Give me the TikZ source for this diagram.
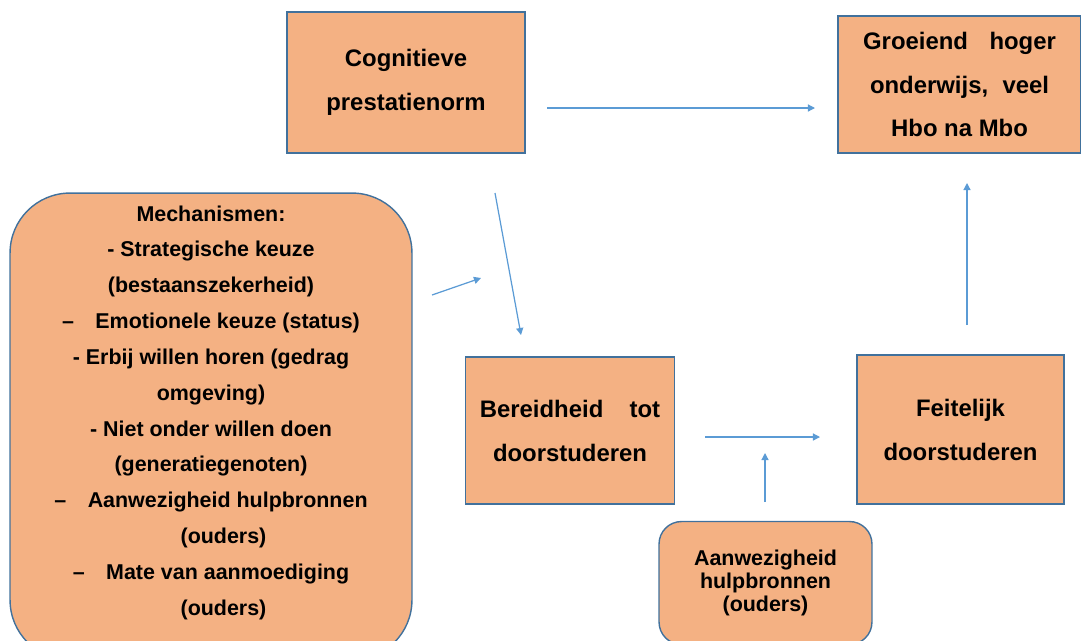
\documentclass[tikz,border=0pt]{standalone}
\usepackage{fontspec}
\setmainfont{Liberation Sans}
\usetikzlibrary{arrows.meta, positioning}
\definecolor{boxfill}{HTML}{F4B183}
\definecolor{boxline}{HTML}{41719C}
\definecolor{arrowblue}{HTML}{5B9BD5}

\begin{document}
\begin{tikzpicture}[x=0.02cm, y=-0.02cm, >={Triangle[length=4pt,width=4pt]},
    block/.style={draw=boxline, line width=0.8pt, fill=boxfill, align=center,
        inner sep=0pt, font=\fontsize{13.6}{25}\selectfont\bfseries},
    softblock/.style={block, rounded corners=0.45cm},
    link/.style={->, draw=arrowblue, line width=0.7pt}]
    \clip (0,0) rectangle (1081,640);

    % Define the boxes
    \node[block, minimum width=4.76cm, minimum height=2.82cm] (cog) at (406,82.5) {Cognitieve\\prestatienorm};
    \node[block, minimum width=4.86cm, minimum height=2.74cm] (groei) at (959.5,84.5) {Groeiend\hspace{0.9em}hoger\\onderwijs,\hspace{0.6em}veel\\Hbo na Mbo};
    \node[block, minimum width=4.18cm, minimum height=2.94cm] (bereid) at (570,430.5) {Bereidheid\hspace{1.1em}tot\\doorstuderen};
    \node[block, minimum width=4.14cm, minimum height=2.98cm] (feit) at (960.5,429.5) {Feitelijk\\doorstuderen};
    \node[softblock, minimum width=4.26cm, minimum height=2.46cm, font=\fontsize{12.2}{13}\selectfont\bfseries] (hulp) at (765.5,583) {Aanwezigheid\\hulpbronnen\\(ouders)};

    % Mechanisms box with its list
    \node[softblock, rounded corners=1.2cm, minimum width=8.04cm, minimum height=9.34cm] (mech) at (211,426.5) {};
    \node[below=0.14cm of mech.north, align=center, font=\fontsize{12.2}{20.4}\selectfont\bfseries] (mechtext) {Mechanismen:\\
        - Strategische keuze\\
        (bestaanszekerheid)\\
        --\quad Emotionele keuze (status)\\
        - Erbij willen horen (gedrag\\
        omgeving)\\
        - Niet onder willen doen\\
        (generatiegenoten)\\
        --\quad Aanwezigheid hulpbronnen\\
        \hspace*{0.5cm}(ouders)\\
        --\quad Mate van aanmoediging\\
        \hspace*{0.5cm}(ouders)};

    % Free ends of the arrows
    \coordinate (cogout) at (547,108);
    \coordinate (groeiin) at (815,108);
    \coordinate (cogdown) at (495,193);
    \coordinate (bereidin) at (521,335);
    \coordinate (mechout) at (432,295);
    \coordinate (mechin) at (481,278);
    \coordinate (bereidout) at (705,437);
    \coordinate (feitin) at (820,437);
    \coordinate (hulpout) at (765,502);
    \coordinate (hulpin) at (765,453);
    \coordinate (feitout) at (967,325);
    \coordinate (groeiup) at (967,183);

    % Arrows
    \draw[link] (cogout) -- (groeiin);
    \draw[link] (cogdown) -- (bereidin);
    \draw[link] (mechout) -- (mechin);
    \draw[link] (bereidout) -- (feitin);
    \draw[link] (hulpout) -- (hulpin);
    \draw[link] (feitout) -- (groeiup);
\end{tikzpicture}
\end{document}
